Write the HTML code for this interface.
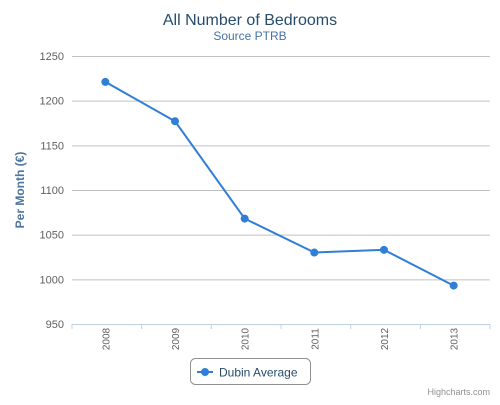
<!DOCTYPE html>
<html><head><meta charset="utf-8"><style>
body{margin:0;background:#fff;font-family:"Liberation Sans","DejaVu Sans",sans-serif}
svg text{font-family:"Liberation Sans","DejaVu Sans",sans-serif}
</style></head><body>
<svg id="chart" width="500" height="400" xmlns="http://www.w3.org/2000/svg">
<text x="250" y="25" text-anchor="middle" font-size="16" fill="#274b6d">All Number of Bedrooms</text>
<text x="250" y="40" text-anchor="middle" font-size="12" fill="#4572a7">Source PTRB</text>
<g id="grid"></g><g id="xaxis"></g><g id="series"></g>
<text transform="translate(24,190) rotate(-90)" text-anchor="middle" font-size="12" font-weight="bold" fill="#4d759e">Per Month (€)</text>
<g>
<rect x="190.5" y="358.5" width="120" height="26" rx="5" fill="#fff" stroke="#909090"/>
<line x1="197" y1="372" x2="213" y2="372" stroke="#2f7ed8" stroke-width="2"/>
<circle cx="205" cy="372" r="4" fill="#2f7ed8"/>
<text x="219" y="376.5" font-size="12" fill="#274b6d">Dubin Average</text>
</g>
<text x="490" y="395" text-anchor="end" font-size="9" fill="#909090">Highcharts.com</text>
</svg>
<script>
const categories=["2008","2009","2010","2011","2012","2013"];
const values=[1221,1177,1068,1030,1033,993];
const yTicks=[950,1000,1050,1100,1150,1200,1250];
const NS="http://www.w3.org/2000/svg";
const L=72,R=490,T=56,B=324,yMin=950,yMax=1250;
const band=(R-L)/categories.length;
const x=i=>L+band*(i+0.5)-1.5;
const y=v=>B-(v-yMin)/(yMax-yMin)*(B-T);
function mk(tag,a,p){const e=document.createElementNS(NS,tag);for(const k in a)e.setAttribute(k,a[k]);p.appendChild(e);return e;}
const grid=document.getElementById('grid'),xa=document.getElementById('xaxis'),se=document.getElementById('series');
yTicks.forEach(t=>{
  if(t!==yMin){const g=mk('line',{x1:L,x2:R,y1:y(t)+0.5,y2:y(t)+0.5,stroke:'#c0c0c0'},grid);
  
  }
  const tx=mk('text',{x:L-8,y:y(t)+4,'text-anchor':'end','font-size':11,fill:'#606060'},grid);
  tx.textContent=t;
  
  
});
const ax=mk('line',{x1:L,x2:R,y1:B+0.5,y2:B+0.5,stroke:'#c0d0e0'},xa);


for(let i=0;i<=categories.length;i++){
  const tk=mk('line',{x1:L+band*i,x2:L+band*i,y1:B,y2:B+5,stroke:'#c0d0e0'},xa);
  
  
}
categories.forEach((c,i)=>{
  const t=mk('text',{transform:`translate(${x(i)+4},${B+15}) rotate(-90)`,'text-anchor':'middle','font-size':10,fill:'#606060'},xa);
  t.textContent=c;
  
  
});
const pl=mk('polyline',{points:values.map((v,i)=>x(i)+','+y(v)).join(' '),fill:'none',stroke:'#2f7ed8','stroke-width':2},se);


values.forEach((v,i)=>{
  const c=mk('circle',{cx:x(i),cy:y(v),r:4,fill:'#2f7ed8'},se);
  
  
});
</script>
</body></html>
